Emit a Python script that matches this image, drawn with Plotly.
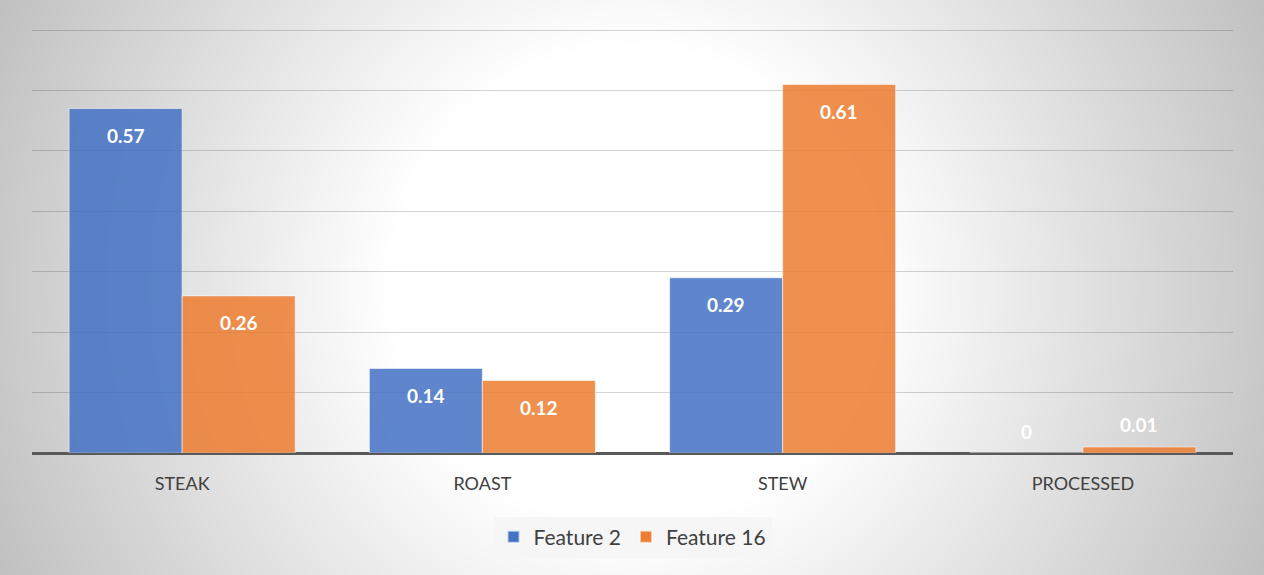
import base64, struct, zlib
import numpy as np
import plotly.graph_objects as go

categories = ["STEAK", "ROAST", "STEW", "PROCESSED"]
feature2 = [0.57, 0.14, 0.29, 0.0]
feature16 = [0.26, 0.12, 0.61, 0.01]
label2 = ["0.57", "0.14", "0.29", "0"]
label16 = ["0.26", "0.12", "0.61", "0.01"]

W, H = 1264, 575
ML, MR, MT, MB = 32, 31, 28, 122
PW, PH = W - ML - MR, H - MT - MB
YMAX = 0.7 * PH / (PH - 2)

# radial gradient background as PNG
def make_png(arr):
    h, w = arr.shape[:2]
    raw = b"".join(b"\x00" + arr[r].tobytes() for r in range(h))
    def chunk(t, d):
        c = struct.pack(">I", len(d)) + t + d
        return c + struct.pack(">I", zlib.crc32(t + d) & 0xffffffff)
    png = b"\x89PNG\r\n\x1a\n"
    png += chunk(b"IHDR", struct.pack(">IIBBBBB", w, h, 8, 2, 0, 0, 0))
    png += chunk(b"IDAT", zlib.compress(raw, 9))
    png += chunk(b"IEND", b"")
    return "data:image/png;base64," + base64.b64encode(png).decode()

gw, gh = 632, 288
xs = (np.arange(gw) + 0.5) / gw * W
ys = (np.arange(gh) + 0.5) / gh * H
X, Y = np.meshgrid(xs, ys)
d = np.sqrt((X - W / 2) ** 2 + (Y - H / 2) ** 2) / np.sqrt((W / 2) ** 2 + (H / 2) ** 2)
t = np.clip((d - 0.35) / 0.65, 0, 1)
v = (255 - t * 62).astype(np.uint8)
img = np.stack([v, v, v], axis=-1)
bg_uri = make_png(img)

blue = "rgb(68,114,196)"
orange = "rgb(237,125,49)"
FONT = "Lato"

fig = go.Figure()
fig.add_trace(go.Bar(name="Feature 2", x=categories, y=feature2,
                     marker=dict(color=blue, opacity=0.85,
                                 line=dict(color="rgba(255,255,255,0.6)", width=1))))
fig.add_trace(go.Bar(name="Feature 16", x=categories, y=feature16,
                     marker=dict(color=orange, opacity=0.85,
                                 line=dict(color="rgba(255,255,255,0.6)", width=1))))

bargap = 0.247
half = (1 - bargap) / 4
annotations = []
for i in range(len(categories)):
    for off, val, lab in ((-half, feature2[i], label2[i]), (half, feature16[i], label16[i])):
        small = val < 0.05
        annotations.append(dict(
            x=i + off, y=val, xref="x", yref="y", text="<b>" + lab + "</b>",
            showarrow=False, yanchor="middle", yshift=(22 if small else -27),
            font=dict(family=FONT, size=19, color="white")))

fig.update_layout(
    width=W, height=H,
    margin=dict(l=ML, r=MR, t=MT, b=MB, autoexpand=False),
    barmode="group", bargap=bargap, bargroupgap=0,
    paper_bgcolor="white", plot_bgcolor="rgba(0,0,0,0)",
    font=dict(family=FONT, color="#404040"),
    showlegend=True,
    legend=dict(orientation="h", x=0.5, xanchor="center", y=(453 - 537 - 0) / PH,
                yanchor="middle", bgcolor="#f6f6f6", font=dict(size=21, color="#404040"),
                itemsizing="constant", borderwidth=0, itemwidth=30),
    annotations=annotations,
    images=[dict(source=bg_uri, xref="paper", yref="paper",
                 x=-ML / PW, y=1 + MT / PH, sizex=W / PW, sizey=H / PH,
                 xanchor="left", yanchor="top", sizing="stretch", layer="below")],
)
fig.update_xaxes(showgrid=False, showline=False, ticks="", ticklabelstandoff=18,
                 tickfont=dict(size=18, color="#404040", family=FONT))
fig.update_yaxes(range=[0, YMAX], dtick=0.1, showticklabels=False, showgrid=True,
                 gridcolor="rgba(0,0,0,0.17)", gridwidth=1.3,
                 zeroline=True, zerolinecolor="#595959", zerolinewidth=3)

fig.write_html("out.html", config={"displayModeBar": False},
               post_script="document.body.style.margin='0';document.body.style.overflow='hidden';")
